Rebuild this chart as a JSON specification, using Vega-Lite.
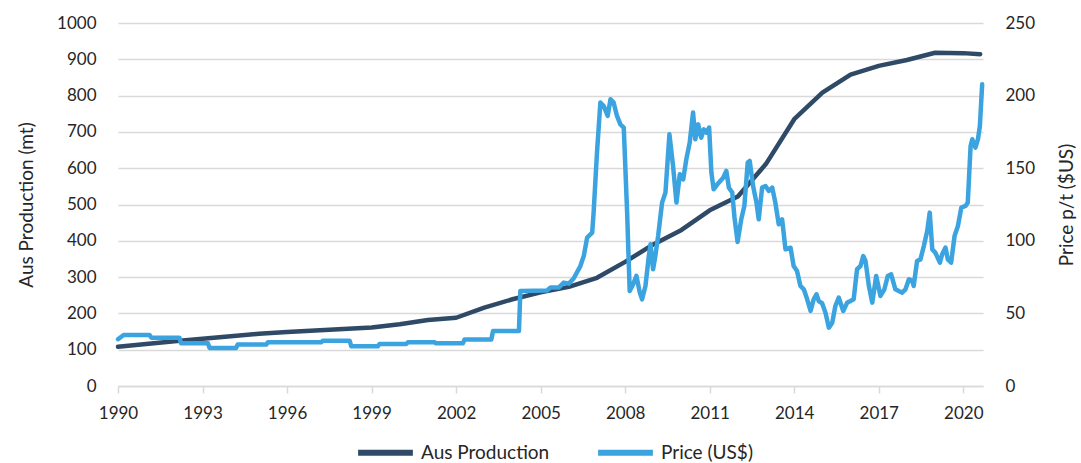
{
  "$schema": "https://vega.github.io/schema/vega-lite/v6.json",
  "width": 865,
  "height": 363,
  "autosize": "none",
  "padding": {"left": 118, "top": 23, "right": 98, "bottom": 77},
  "background": "white",
  "config": {
    "font": "Lato",
    "view": {"stroke": null},
    "axis": {"labelFont": "Lato", "titleFont": "Lato", "labelColor": "#262626", "titleColor": "#262626", "labelFontSize": 17, "titleFontSize": 19, "titleFontWeight": "normal"},
    "legend": {"labelFont": "Lato", "labelFontSize": 19, "labelColor": "#262626"}
  },
  "datasets": {
    "prod": [
      {"year": 1990, "prod": 108}, {"year": 1991, "prod": 116}, {"year": 1992, "prod": 123},
      {"year": 1993, "prod": 130}, {"year": 1994, "prod": 137}, {"year": 1995, "prod": 144},
      {"year": 1996, "prod": 149}, {"year": 1997, "prod": 153}, {"year": 1998, "prod": 157},
      {"year": 1999, "prod": 161}, {"year": 2000, "prod": 170}, {"year": 2001, "prod": 182},
      {"year": 2002, "prod": 188}, {"year": 2003, "prod": 216}, {"year": 2004, "prod": 239},
      {"year": 2005, "prod": 258}, {"year": 2006, "prod": 273}, {"year": 2007, "prod": 298},
      {"year": 2008, "prod": 342}, {"year": 2009, "prod": 390}, {"year": 2010, "prod": 430},
      {"year": 2011, "prod": 484}, {"year": 2012, "prod": 522}, {"year": 2013, "prod": 612},
      {"year": 2014, "prod": 735}, {"year": 2015, "prod": 808}, {"year": 2016, "prod": 858},
      {"year": 2017, "prod": 882}, {"year": 2018, "prod": 898}, {"year": 2019, "prod": 918},
      {"year": 2020, "prod": 917}, {"year": 2020.6, "prod": 914}
    ],
    "price": [
      {"year": 1990.0, "price": 32.2}, {"year": 1990.2, "price": 35.1}, {"year": 1991.12, "price": 35.1},
      {"year": 1991.18, "price": 33.3}, {"year": 1992.18, "price": 33.3}, {"year": 1992.24, "price": 29.4},
      {"year": 1993.19, "price": 29.4}, {"year": 1993.25, "price": 26.2}, {"year": 1994.19, "price": 26.2},
      {"year": 1994.25, "price": 28.5}, {"year": 1995.26, "price": 28.5}, {"year": 1995.32, "price": 30.1},
      {"year": 1997.21, "price": 30.1}, {"year": 1997.27, "price": 31.2}, {"year": 1998.22, "price": 31.2},
      {"year": 1998.28, "price": 27.3}, {"year": 1999.22, "price": 27.3}, {"year": 1999.28, "price": 28.9},
      {"year": 2000.23, "price": 28.9}, {"year": 2000.29, "price": 30.1}, {"year": 2001.23, "price": 30.1},
      {"year": 2001.29, "price": 29.4}, {"year": 2002.24, "price": 29.4}, {"year": 2002.30, "price": 32.0},
      {"year": 2003.25, "price": 32.0}, {"year": 2003.31, "price": 37.9}, {"year": 2004.23, "price": 37.9},
      {"year": 2004.28, "price": 65.4}, {"year": 2005.23, "price": 65.8}, {"year": 2005.35, "price": 67.8},
      {"year": 2005.64, "price": 67.8}, {"year": 2005.82, "price": 71.2}, {"year": 2006.0, "price": 70.5},
      {"year": 2006.17, "price": 74.0}, {"year": 2006.41, "price": 82.6}, {"year": 2006.53, "price": 89.5},
      {"year": 2006.65, "price": 102.2}, {"year": 2006.83, "price": 105.6}, {"year": 2006.88, "price": 119.4},
      {"year": 2007.0, "price": 160.7}, {"year": 2007.12, "price": 195.2}, {"year": 2007.24, "price": 192.8},
      {"year": 2007.38, "price": 186.0}, {"year": 2007.48, "price": 197.5}, {"year": 2007.59, "price": 195.2},
      {"year": 2007.71, "price": 186.0}, {"year": 2007.83, "price": 180.2}, {"year": 2007.95, "price": 178.0},
      {"year": 2008.07, "price": 119.4}, {"year": 2008.16, "price": 65.4}, {"year": 2008.28, "price": 70.0},
      {"year": 2008.40, "price": 75.8}, {"year": 2008.52, "price": 64.3}, {"year": 2008.60, "price": 59.7},
      {"year": 2008.72, "price": 68.9}, {"year": 2008.84, "price": 89.5}, {"year": 2008.90, "price": 97.6},
      {"year": 2008.99, "price": 80.4}, {"year": 2009.07, "price": 89.5}, {"year": 2009.17, "price": 103.3},
      {"year": 2009.31, "price": 126.3}, {"year": 2009.43, "price": 133.2}, {"year": 2009.57, "price": 173.3},
      {"year": 2009.70, "price": 151.5}, {"year": 2009.82, "price": 126.3}, {"year": 2009.94, "price": 145.8},
      {"year": 2010.06, "price": 142.3}, {"year": 2010.17, "price": 156.1}, {"year": 2010.29, "price": 167.6},
      {"year": 2010.41, "price": 188.3}, {"year": 2010.49, "price": 169.9}, {"year": 2010.59, "price": 180.2},
      {"year": 2010.70, "price": 171.0}, {"year": 2010.79, "price": 176.8}, {"year": 2010.88, "price": 174.5},
      {"year": 2010.98, "price": 178.0}, {"year": 2011.06, "price": 147.0}, {"year": 2011.14, "price": 135.5},
      {"year": 2011.32, "price": 140.0}, {"year": 2011.48, "price": 143.5}, {"year": 2011.59, "price": 148.1},
      {"year": 2011.68, "price": 136.6}, {"year": 2011.80, "price": 133.2}, {"year": 2011.88, "price": 116.0},
      {"year": 2011.99, "price": 99.2}, {"year": 2012.12, "price": 114.8}, {"year": 2012.23, "price": 124.0},
      {"year": 2012.35, "price": 153.9}, {"year": 2012.42, "price": 155.0}, {"year": 2012.54, "price": 137.7},
      {"year": 2012.66, "price": 126.3}, {"year": 2012.74, "price": 114.8}, {"year": 2012.86, "price": 136.6},
      {"year": 2012.98, "price": 137.7}, {"year": 2013.10, "price": 134.3}, {"year": 2013.22, "price": 136.6},
      {"year": 2013.33, "price": 126.3}, {"year": 2013.45, "price": 111.4}, {"year": 2013.57, "price": 114.8},
      {"year": 2013.69, "price": 94.1}, {"year": 2013.87, "price": 95.2}, {"year": 2013.98, "price": 82.6},
      {"year": 2014.10, "price": 79.2}, {"year": 2014.22, "price": 68.9}, {"year": 2014.34, "price": 66.6},
      {"year": 2014.46, "price": 59.7}, {"year": 2014.58, "price": 51.7}, {"year": 2014.69, "price": 59.7},
      {"year": 2014.79, "price": 63.2}, {"year": 2014.87, "price": 58.5}, {"year": 2014.99, "price": 57.0},
      {"year": 2015.11, "price": 50.5}, {"year": 2015.23, "price": 40.2}, {"year": 2015.35, "price": 43.6},
      {"year": 2015.46, "price": 55.1}, {"year": 2015.58, "price": 60.9}, {"year": 2015.74, "price": 51.7},
      {"year": 2015.88, "price": 57.4}, {"year": 2016.0, "price": 58.5}, {"year": 2016.11, "price": 59.7},
      {"year": 2016.23, "price": 80.4}, {"year": 2016.35, "price": 82.6}, {"year": 2016.45, "price": 89.5},
      {"year": 2016.53, "price": 86.1}, {"year": 2016.65, "price": 68.9}, {"year": 2016.77, "price": 57.4},
      {"year": 2016.91, "price": 75.8}, {"year": 2017.06, "price": 62.0}, {"year": 2017.20, "price": 66.6},
      {"year": 2017.32, "price": 75.8}, {"year": 2017.44, "price": 76.9}, {"year": 2017.59, "price": 66.6},
      {"year": 2017.71, "price": 65.4}, {"year": 2017.83, "price": 64.3}, {"year": 2017.95, "price": 66.6},
      {"year": 2018.07, "price": 73.5}, {"year": 2018.19, "price": 72.4}, {"year": 2018.24, "price": 68.9},
      {"year": 2018.36, "price": 86.1}, {"year": 2018.48, "price": 87.2}, {"year": 2018.60, "price": 96.4},
      {"year": 2018.72, "price": 106.7}, {"year": 2018.81, "price": 119.4}, {"year": 2018.90, "price": 94.1},
      {"year": 2019.01, "price": 91.8}, {"year": 2019.17, "price": 85.0}, {"year": 2019.25, "price": 90.7},
      {"year": 2019.37, "price": 95.3}, {"year": 2019.45, "price": 87.2}, {"year": 2019.57, "price": 85.0},
      {"year": 2019.69, "price": 103.3}, {"year": 2019.81, "price": 110.2}, {"year": 2019.93, "price": 122.9},
      {"year": 2020.08, "price": 124.0}, {"year": 2020.16, "price": 126.3}, {"year": 2020.26, "price": 165.3},
      {"year": 2020.32, "price": 169.9}, {"year": 2020.43, "price": 164.2}, {"year": 2020.52, "price": 169.9},
      {"year": 2020.59, "price": 179.1}, {"year": 2020.67, "price": 207.8}
    ]
  },
  "layer": [
    {
      "data": {"name": "prod"},
      "transform": [{"calculate": "'Aus Production'", "as": "series"}],
      "mark": {"type": "line", "strokeWidth": 4.5, "strokeJoin": "round", "strokeCap": "round"},
      "encoding": {
        "x": {"field": "year", "type": "quantitative", "scale": {"domain": [1990, 2020.7], "nice": false, "zero": false},
          "axis": {"values": [1990, 1993, 1996, 1999, 2002, 2005, 2008, 2011, 2014, 2017, 2020], "format": "d", "title": null, "grid": false, "domainColor": "#D9D9D9", "domainWidth": 1.5, "tickColor": "#D9D9D9", "tickWidth": 1.5, "tickSize": 7, "labelPadding": 12, "labelFlush": false}},
        "y": {"field": "prod", "type": "quantitative", "scale": {"domain": [0, 1000], "nice": false},
          "axis": {"values": [0, 100, 200, 300, 400, 500, 600, 700, 800, 900, 1000], "format": "d", "title": "Aus Production (mt)", "grid": true, "gridColor": "#D9D9D9", "gridWidth": 1.5, "domain": false, "ticks": false, "labelPadding": 22, "titlePadding": 20}},
        "color": {"field": "series", "type": "nominal", "scale": {"domain": ["Aus Production", "Price (US$)"], "range": ["#2E4A67", "#3BA3DF"]},
          "legend": {"title": null, "orient": "none", "legendX": 237, "legendY": 399, "direction": "horizontal", "symbolType": "stroke", "symbolStrokeWidth": 6, "symbolSize": 3000, "columnPadding": 36, "labelOffset": 5}}
      }
    },
    {
      "data": {"name": "price"},
      "transform": [{"calculate": "'Price (US$)'", "as": "series"}],
      "mark": {"type": "line", "strokeWidth": 4.5, "strokeJoin": "round", "strokeCap": "round"},
      "encoding": {
        "x": {"field": "year", "type": "quantitative"},
        "y": {"field": "price", "type": "quantitative", "scale": {"domain": [0, 250], "nice": false},
          "axis": {"orient": "right", "values": [0, 50, 100, 150, 200, 250], "format": "d", "title": "Price p/t ($US)", "titleAngle": 270, "grid": false, "domain": false, "ticks": false, "labelPadding": 22, "titlePadding": 42}},
        "color": {"field": "series", "type": "nominal"}
      }
    }
  ],
  "resolve": {"scale": {"y": "independent"}}
}
